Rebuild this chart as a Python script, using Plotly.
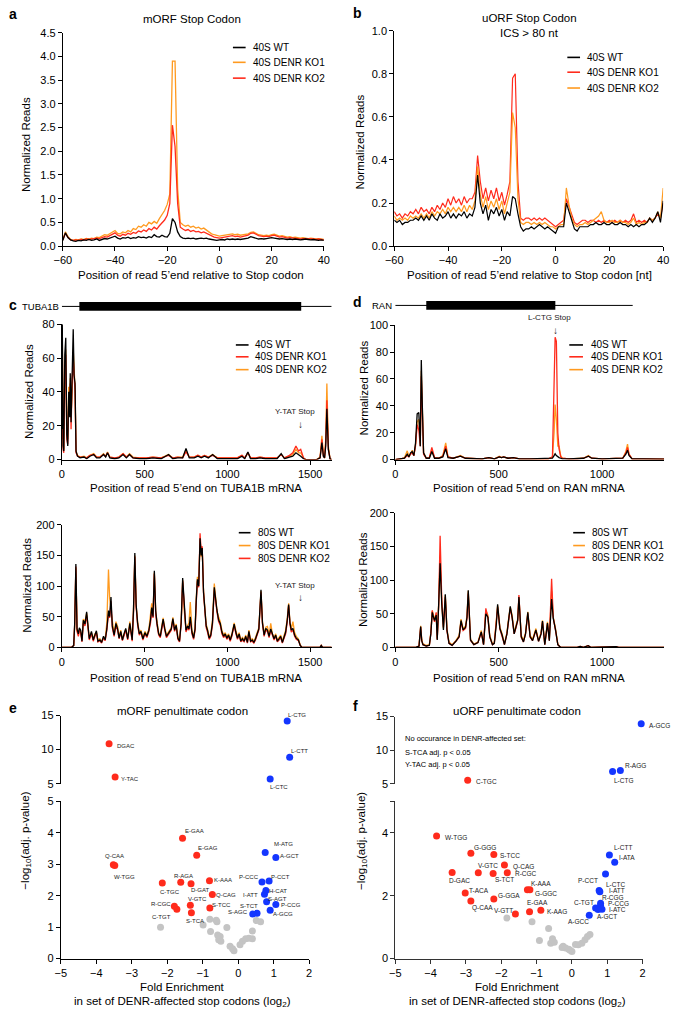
import plotly.graph_objects as go

W, H = 676, 1016
FONT = "Liberation Sans, Arial, sans-serif"
BLACK = "#000000"
ORANGE = "#FF9A1F"
RED = "#FF2B1C"
BLUE = "#1436FF"
GRAY = "#C4C4C4"

# ---------------- data ----------------
pos_ab = list(range(-60, 41))

a_wt = [0.12,0.28,0.18,0.13,0.11,0.10,0.12,0.11,0.13,0.12,
        0.14,0.12,0.13,0.15,0.12,0.14,0.16,0.15,0.17,0.19,
        0.21,0.17,0.15,0.18,0.17,0.19,0.16,0.18,0.17,0.20,
        0.18,0.19,0.17,0.20,0.18,0.24,0.20,0.19,0.23,0.20,
        0.19,0.27,0.58,0.50,0.30,0.20,0.17,0.16,0.17,0.16,
        0.17,0.15,0.16,0.17,0.16,0.17,0.15,0.14,0.13,0.12,
        0.13,0.14,0.13,0.15,0.14,0.15,0.14,0.15,0.14,0.15,
        0.16,0.17,0.20,0.18,0.16,0.15,0.16,0.15,0.16,0.17,
        0.18,0.17,0.16,0.15,0.16,0.15,0.14,0.15,0.14,0.15,
        0.14,0.13,0.14,0.15,0.14,0.13,0.14,0.13,0.12,0.13,0.12]
a_ko1 = [0.14,0.30,0.20,0.14,0.12,0.14,0.13,0.15,0.14,0.16,
         0.15,0.17,0.16,0.19,0.18,0.21,0.24,0.23,0.26,0.29,
         0.33,0.27,0.26,0.30,0.28,0.33,0.30,0.37,0.35,0.42,
         0.40,0.45,0.42,0.50,0.47,0.52,0.48,0.58,0.66,0.75,
         0.88,1.10,3.90,3.90,1.20,0.50,0.45,0.42,0.44,0.40,
         0.42,0.38,0.40,0.36,0.38,0.34,0.30,0.26,0.24,0.22,
         0.21,0.22,0.23,0.24,0.25,0.26,0.24,0.25,0.23,0.24,
         0.25,0.26,0.29,0.30,0.27,0.24,0.23,0.22,0.23,0.22,
         0.24,0.25,0.23,0.21,0.22,0.20,0.19,0.20,0.18,0.19,
         0.18,0.17,0.18,0.17,0.16,0.17,0.16,0.15,0.16,0.15,0.14]
a_ko2 = [0.13,0.27,0.18,0.13,0.12,0.13,0.12,0.14,0.13,0.15,
         0.14,0.15,0.15,0.17,0.16,0.18,0.20,0.19,0.22,0.24,
         0.28,0.23,0.21,0.25,0.23,0.27,0.25,0.29,0.27,0.32,
         0.30,0.34,0.31,0.37,0.34,0.40,0.36,0.43,0.48,0.55,
         0.65,0.90,2.55,2.10,0.90,0.40,0.36,0.33,0.35,0.31,
         0.33,0.30,0.31,0.28,0.30,0.27,0.24,0.21,0.19,0.18,
         0.17,0.18,0.19,0.20,0.21,0.22,0.20,0.21,0.19,0.20,
         0.21,0.23,0.27,0.28,0.25,0.22,0.21,0.20,0.21,0.20,
         0.22,0.23,0.21,0.19,0.20,0.18,0.17,0.18,0.17,0.17,
         0.16,0.15,0.16,0.16,0.15,0.16,0.15,0.14,0.15,0.14,0.13]

b_wt = [0.12,0.11,0.12,0.10,0.11,0.11,0.12,0.12,0.13,0.12,
        0.14,0.12,0.14,0.12,0.15,0.13,0.12,0.15,0.13,0.14,
        0.16,0.13,0.15,0.13,0.15,0.14,0.16,0.13,0.15,0.14,
        0.18,0.33,0.20,0.15,0.19,0.12,0.17,0.15,0.18,0.14,
        0.17,0.12,0.16,0.14,0.23,0.22,0.15,0.09,0.07,0.08,
        0.08,0.09,0.08,0.09,0.10,0.09,0.08,0.09,0.08,0.07,
        0.06,0.09,0.09,0.09,0.20,0.16,0.12,0.08,0.07,0.09,
        0.09,0.09,0.09,0.10,0.10,0.11,0.10,0.10,0.11,0.10,
        0.10,0.11,0.10,0.10,0.11,0.10,0.10,0.09,0.10,0.09,
        0.10,0.09,0.10,0.10,0.11,0.13,0.11,0.13,0.16,0.11,0.21]
b_ko1 = [0.16,0.14,0.15,0.13,0.15,0.14,0.16,0.15,0.17,0.15,
         0.18,0.16,0.17,0.15,0.18,0.16,0.19,0.17,0.20,0.18,
         0.22,0.19,0.23,0.20,0.22,0.19,0.23,0.20,0.22,0.22,
         0.25,0.42,0.30,0.22,0.27,0.21,0.26,0.22,0.27,0.21,
         0.25,0.19,0.24,0.30,0.78,0.80,0.30,0.13,0.12,0.13,
         0.13,0.12,0.13,0.12,0.13,0.12,0.13,0.12,0.11,0.10,
         0.09,0.10,0.11,0.12,0.22,0.18,0.14,0.11,0.10,0.11,
         0.12,0.12,0.11,0.12,0.12,0.11,0.12,0.11,0.12,0.11,
         0.12,0.11,0.12,0.11,0.12,0.11,0.12,0.11,0.12,0.15,
         0.11,0.12,0.11,0.12,0.11,0.13,0.12,0.13,0.15,0.13,0.20]
b_ko2 = [0.14,0.12,0.13,0.12,0.13,0.12,0.14,0.13,0.14,0.13,
         0.15,0.13,0.15,0.13,0.16,0.14,0.16,0.15,0.17,0.15,
         0.18,0.16,0.18,0.16,0.18,0.16,0.19,0.16,0.19,0.17,
         0.21,0.37,0.24,0.18,0.23,0.17,0.21,0.18,0.22,0.17,
         0.21,0.15,0.20,0.25,0.62,0.55,0.22,0.11,0.10,0.11,
         0.11,0.10,0.11,0.10,0.11,0.10,0.11,0.10,0.09,0.09,
         0.08,0.09,0.10,0.10,0.27,0.19,0.13,0.10,0.09,0.10,
         0.10,0.11,0.10,0.11,0.12,0.13,0.14,0.16,0.12,0.11,
         0.11,0.12,0.11,0.11,0.12,0.11,0.11,0.10,0.11,0.13,
         0.10,0.11,0.10,0.11,0.11,0.13,0.12,0.13,0.16,0.13,0.27]

# c top: 40S on TUBA1B
ct_pos = [0, 3, 8, 12, 18, 24, 30, 36, 42, 48,
          51, 56, 62, 69, 74, 80, 86, 95, 110, 134,
          150, 170, 193, 210, 230, 252, 265, 276, 290, 320,
          345, 370, 390, 409, 430, 470, 510, 550, 600, 645,
          670, 700, 730, 750, 770, 800, 822, 842, 862, 885,
          911, 940, 980, 1020, 1060, 1088, 1105, 1124, 1140, 1170,
          1197, 1230, 1270, 1300, 1325, 1345, 1375, 1395, 1414, 1430,
          1443, 1460, 1473, 1500, 1540, 1560, 1571, 1580, 1587, 1594,
          1601, 1610, 1620, 1630]
ct_wt = [18, 80, 8, 5, 62, 72, 15, 8, 40, 25,
         51, 22, 48, 77, 50, 45, 5, 2, 1, 1.5,
         0.5, 2, 3, 1, 1, 3, 1.5, 4, 1, 0.5,
         1, 3, 1, 3, 1, 0.5, 0.5, 1, 0.5, 3,
         0.5, 1, 1, 6.5, 1, 1, 2, 1, 2, 1,
         3, 0.5, 0.5, 0.5, 0.5, 2, 0.5, 4.5, 0.5, 0.5,
         1, 0.5, 0.5, 0.5, 3.5, 0.5, 1.5, 2, 4, 3,
         2, 0.5, 0, 0, 0, 1, 10, 2, 1, 8,
         30, 6, 0.5, 0]
ct_ko1 = [12, 68, 6, 4, 50, 62, 12, 9, 35, 28,
          45, 18, 45, 60, 50, 40, 4, 2, 1.5, 1.5,
          1, 2.5, 3, 1.5, 1.5, 3, 2, 4, 1.5, 1,
          1.5, 3.5, 1.5, 3, 1, 1, 1, 1.5, 1, 2.5,
          1, 1.5, 1, 4.5, 1.5, 1.5, 2.5, 1.5, 2.5, 1.5,
          2.5, 1, 1, 1, 1, 2.5, 1, 4, 1, 1,
          1.5, 1, 1, 1, 3, 1, 2.5, 4, 8, 5,
          6, 1, 0, 0, 0, 1, 12, 2, 1, 10,
          35, 6, 0.5, 0]
ct_ko2 = [15, 75, 9, 6, 55, 65, 18, 12, 43, 30,
          48, 25, 40, 65, 55, 42, 5, 2.5, 1.5, 2,
          1, 2.5, 3.5, 1.5, 1.5, 3.5, 2, 4.5, 1.5, 1,
          1.5, 3.5, 1.5, 3.5, 1.5, 1, 1, 1.5, 1, 3,
          1, 1.5, 1.5, 5.5, 1.5, 1.5, 2.5, 1.5, 2.5, 1.5,
          3, 1, 1, 1, 1, 2.5, 1, 4, 1, 1,
          1.5, 1, 1, 1, 3, 1, 2, 3, 6, 4,
          4, 1, 0, 0, 0, 1.5, 14, 2.5, 1, 12,
          45, 8, 0.5, 0]

# c bottom: 80S on TUBA1B
cb_pos = [0, 60, 72, 78, 85, 92, 100, 106, 114, 122,
          130, 140, 150, 158, 166, 179, 190, 200, 209, 218,
          230, 240, 252, 262, 272, 282, 289, 297, 305, 316,
          327, 337, 346, 356, 366, 376, 386, 398, 411, 425,
          433, 441, 449, 458, 468, 478, 490, 502, 514, 526,
          536, 543, 551, 559, 567, 575, 585, 595, 604, 612,
          622, 632, 642, 652, 661, 671, 681, 691, 701, 711,
          721, 730, 740, 750, 760, 768, 776, 786, 796, 805,
          812, 819, 827, 835, 842, 848, 856, 864, 872, 880,
          890, 900, 910, 921, 929, 937, 947, 957, 967, 977,
          987, 997, 1007, 1017, 1027, 1041, 1051, 1061, 1071, 1081,
          1091, 1101, 1111, 1121, 1130, 1140, 1150, 1160, 1170, 1180,
          1190, 1203, 1212, 1222, 1232, 1242, 1252, 1262, 1272, 1282,
          1292, 1302, 1312, 1322, 1332, 1342, 1352, 1362, 1370, 1378,
          1386, 1396, 1406, 1416, 1429, 1440, 1450, 1560, 1567, 1575,
          1630]
cb_wt = [0, 0, 3, 40, 136, 30, 22, 32, 28, 10,
         44, 38, 58, 32, 14, 26, 12, 20, 27, 10,
         12, 8, 18, 12, 30, 60, 50, 82, 35, 20,
         39, 30, 15, 26, 12, 22, 31, 14, 39, 12,
         60, 154, 70, 39, 22, 26, 14, 24, 18, 28,
         45, 65, 50, 125, 60, 39, 22, 18, 30, 46,
         30, 18, 22, 26, 30, 47, 28, 36, 15, 10,
         40, 113, 60, 28, 35, 30, 50, 25, 15, 30,
         77, 111, 100, 178, 150, 162, 90, 60, 35, 28,
         15, 20, 40, 98, 75, 61, 45, 39, 25, 18,
         22, 15, 20, 12, 20, 38, 25, 15, 22, 10,
         14, 10, 18, 8, 26, 10, 12, 8, 14, 22,
         30, 94, 40, 20, 31, 28, 18, 30, 20, 14,
         20, 10, 14, 18, 8, 16, 25, 45, 70, 40,
         28, 31, 20, 15, 12, 3, 0, 0, 3, 0,
         0]
cb_ko1 = [0, 0, 3, 35, 130, 28, 20, 30, 26, 12,
          46, 42, 56, 30, 16, 24, 14, 22, 25, 12,
          14, 9, 16, 14, 40, 127, 80, 60, 40, 22,
          42, 34, 18, 28, 14, 20, 29, 16, 42, 14,
          62, 150, 68, 42, 24, 28, 16, 26, 20, 30,
          50, 72, 55, 122, 58, 42, 24, 20, 32, 48,
          32, 20, 24, 28, 32, 49, 30, 38, 17, 12,
          42, 110, 58, 30, 37, 40, 74, 28, 18, 32,
          80, 115, 104, 176, 148, 160, 92, 62, 38, 30,
          18, 22, 44, 104, 80, 60, 50, 42, 28, 20,
          24, 17, 22, 14, 22, 40, 28, 17, 24, 12,
          16, 12, 20, 10, 28, 12, 14, 10, 16, 24,
          32, 92, 42, 22, 33, 34, 20, 39, 22, 16,
          22, 12, 16, 20, 10, 18, 28, 48, 72, 42,
          30, 42, 24, 18, 14, 4, 0, 0, 3, 0,
          0]
cb_ko2 = [0, 0, 3, 38, 132, 26, 18, 28, 24, 9,
          40, 35, 52, 28, 12, 22, 10, 18, 24, 9,
          11, 7, 15, 11, 28, 55, 48, 75, 32, 18,
          36, 28, 14, 24, 11, 19, 28, 12, 36, 10,
          55, 148, 66, 36, 20, 24, 12, 22, 16, 26,
          40, 60, 48, 120, 55, 36, 20, 16, 28, 42,
          28, 16, 20, 24, 28, 45, 26, 34, 13, 9,
          38, 108, 55, 25, 32, 28, 45, 22, 13, 28,
          72, 108, 98, 186, 155, 165, 88, 56, 32, 25,
          13, 18, 36, 94, 70, 58, 42, 36, 22, 16,
          20, 13, 18, 10, 18, 36, 23, 13, 20, 9,
          12, 9, 16, 7, 24, 9, 10, 7, 12, 20,
          28, 90, 38, 18, 28, 26, 16, 28, 18, 12,
          18, 9, 12, 16, 7, 14, 22, 42, 68, 38,
          25, 28, 18, 13, 11, 3, 0, 0, 3, 0,
          0]

# d top: 40S on RAN
dt_pos = [0, 30, 45, 58, 66, 74, 82, 90, 98, 106,
          114, 121, 126, 131, 137, 150, 165, 177, 190, 210,
          230, 244, 255, 280, 315, 340, 380, 420, 453, 480,
          503, 514, 524, 545, 571, 600, 650, 700, 740, 760,
          768, 773, 779, 786, 792, 800, 808, 840, 880, 910,
          934, 950, 1000, 1050, 1100, 1115, 1123, 1130, 1145, 1200,
          1250, 1300]
dt_wt = [0, 0.5, 1, 4, 2, 5, 6, 3, 12, 34,
         35, 10, 74, 40, 5, 1, 1, 6, 1, 1,
         2, 8, 1.5, 1, 2.5, 1, 0.5, 0.5, 1.5, 0.5,
         2, 1.5, 2, 1, 1.5, 0.5, 0.5, 0.5, 0.5, 1,
         3, 4.3, 3, 2, 1.5, 1, 0.5, 0.5, 0.5, 1,
         2.5, 1, 0.5, 0.5, 1, 4, 7, 3, 0.5, 0.5,
         0.3, 0.3]
dt_ko1 = [0, 0.5, 1, 3, 2, 4, 5, 3, 10, 26,
          22, 10, 62, 35, 4, 1, 1.5, 9, 1.5, 1,
          2.5, 10, 2, 1, 2.5, 1, 0.5, 0.5, 1.5, 0.5,
          2, 1.5, 2, 1, 1.5, 0.5, 0.5, 0.5, 0.5, 2,
          60, 91, 88, 20, 8, 2, 1, 0.5, 0.5, 1,
          2.5, 1, 0.5, 0.5, 1, 5, 9, 4, 0.5, 0.5,
          0.3, 0.3]
dt_ko2 = [0, 0.5, 1.5, 6.5, 2.5, 4, 7, 3, 11, 28,
          30, 12, 66, 38, 5, 1, 1.5, 7, 1.5, 1,
          3, 12.5, 2, 1, 3, 1, 0.5, 0.5, 1.5, 0.5,
          2.5, 1.5, 2, 1, 1.5, 0.5, 0.5, 0.5, 0.5, 1.5,
          20, 41, 30, 10, 10, 3, 1, 0.5, 0.5, 1,
          3, 1, 0.5, 0.5, 1, 6, 11.5, 4, 0.5, 0.5,
          0.3, 0.3]

# d bottom: 80S on RAN
db_pos = [0, 100, 115, 120, 123, 128, 134, 150, 165, 172,
          179, 185, 190, 198, 203, 210, 217, 225, 233, 242,
          250, 260, 275, 293, 309, 318, 328, 340, 347, 353,
          364, 380, 400, 416, 427, 438, 448, 457, 470, 479,
          489, 495, 506, 517, 528, 540, 546, 556, 565, 575,
          585, 592, 598, 609, 620, 630, 641, 652, 664, 680,
          693, 705, 712, 723, 736, 745, 756, 764, 775, 786,
          799, 880, 894, 910, 933, 945, 1068, 1080, 1300]
db_wt = [0, 0, 2, 28, 31, 10, 4, 2, 3, 20,
         52, 45, 40, 48, 11, 64, 125, 64, 26, 79,
         26, 6, 3, 9, 16, 40, 26, 30, 45, 85,
         11, 4, 7, 23, 4, 50, 45, 16, 4, 6,
         35, 64, 28, 18, 4, 20, 35, 61, 45, 20,
         32, 40, 75, 16, 8, 20, 52, 16, 10, 26,
         9, 20, 39, 4, 36, 10, 72, 43, 26, 4,
         0, 0, 1.5, 0, 2.4, 0, 1, 0, 0]
db_ko1 = [0, 0, 2, 30, 32, 12, 5, 3, 4, 22,
          54, 48, 42, 50, 12, 66, 137, 66, 28, 78,
          28, 8, 4, 10, 18, 42, 28, 32, 48, 84,
          12, 5, 8, 25, 5, 55, 48, 18, 5, 7,
          38, 62, 30, 20, 5, 22, 38, 60, 48, 22,
          34, 42, 74, 18, 10, 22, 53, 18, 12, 28,
          10, 22, 40, 5, 38, 12, 84, 45, 28, 5,
          0, 0, 1.5, 0, 2.4, 0, 1, 0, 0]
db_ko2 = [0, 0, 2, 28, 30, 10, 4, 2, 3, 20,
          55, 44, 38, 52, 12, 62, 166, 70, 30, 75,
          24, 6, 3, 9, 15, 38, 25, 28, 44, 80,
          10, 4, 7, 22, 4, 58, 44, 15, 4, 6,
          34, 60, 27, 17, 4, 20, 34, 58, 44, 20,
          30, 40, 78, 15, 8, 20, 50, 15, 10, 25,
          9, 20, 38, 4, 35, 10, 102, 44, 25, 4,
          0, 0, 1.5, 0, 2.4, 0, 1, 0, 0]

# gene models (nt)
tuba1b_len, tuba1b_cds = 1630, [106, 1446]
ran_len, ran_cds = 1148, [150, 774]
tuba1b_stop_nt = 1441
ran_stop_nt = 777

# e: mORF penultimate codon (x = log2 fold enrichment, y = -log10 adj p)
e_up_red_lab = ["DGAC", "Y-TAC"]
e_up_red_x = [-3.64, -3.47]
e_up_red_y = [10.85, 5.97]
e_up_blue_lab = ["L-CTG", "L-CTT", "L-CTC"]
e_up_blue_x = [1.38, 1.45, 0.90]
e_up_blue_y = [14.18, 8.87, 5.68]
e_red_lab = ["E-GAA", "E-GAG", "Q-CAA", "W-TGG", "C-TGC", "R-AGA", "D-GAT", "K-AAA",
             "Q-CAG", "V-GTC", "S-TCC", "R-CGC", "S-TCA"]
e_red_x = [-1.57, -1.17, -3.52, -3.48, -2.14, -1.62, -1.33, -0.81, -0.73, -1.35, -0.80, -1.80, -1.32]
e_red_y = [3.83, 3.29, 2.99, 2.96, 2.41, 2.43, 2.38, 2.48, 2.04, 1.70, 1.61, 1.67, 1.46]
e_red_nolab_x = [-1.73]
e_red_nolab_y = [1.57]
e_blue_lab = ["M-ATG", "A-GCT", "P-CCC", "P-CCT", "H-CAT", "I-ATT", "S-AGT", "P-CCG",
              "A-GCG", "S-TCT", "S-AGC"]
e_blue_x = [0.76, 1.06, 0.67, 0.87, 0.78, 0.74, 0.80, 1.06, 0.90, 0.53, 0.41]
e_blue_y = [3.38, 3.22, 2.44, 2.47, 2.17, 2.05, 1.81, 1.72, 1.54, 1.44, 1.42]
e_gray_lab = ["C-TGT"]
e_gray_lab_x = [-2.19]
e_gray_lab_y = [1.00]
e_gray_x = [-0.99, -0.80, -0.78, -0.60, -0.62, -0.32, -0.58, -0.51, -0.55, -0.49,
            -0.23, -0.16, -0.12, 0.05, 0.12, 0.21, 0.30, 0.40, 0.40, 0.51, 0.63]
e_gray_y = [1.07, 1.25, 0.86, 1.17, 1.22, 0.99, 0.75, 0.70, 0.60, 0.55,
            0.39, 0.31, 0.25, 0.44, 0.55, 0.63, 0.65, 0.63, 0.88, 1.21, 1.17]

# f: uORF penultimate codon
f_up_red_lab = ["C-TGC"]
f_up_red_x = [-2.95]
f_up_red_y = [5.50]
f_up_blue_lab = ["A-GCG", "R-AGG", "L-CTG"]
f_up_blue_x = [1.96, 1.37, 1.15]
f_up_blue_y = [13.91, 6.98, 6.83]
f_red_lab = ["W-TGG", "G-GGG", "S-TCC", "V-GTC", "Q-CAG", "D-GAC", "S-TCT", "R-CGC",
             "K-AAA", "G-GGC", "T-ACA", "G-GGA", "Q-CAA", "V-GTT", "E-GAA", "K-AAG"]
f_red_x = [-3.83, -2.86, -2.21, -2.65, -1.91, -3.39, -2.23, -1.83,
           -1.26, -1.19, -3.02, -2.21, -2.86, -1.60, -1.20, -0.88]
f_red_y = [3.90, 3.35, 3.31, 2.73, 2.98, 2.74, 2.71, 2.73,
           2.19, 2.19, 2.09, 1.90, 1.83, 1.42, 1.49, 1.54]
f_blue_lab = ["L-CTT", "I-ATA", "P-CCT", "L-CTC", "I-ATT", "R-CGG", "P-CCG", "C-TGT",
              "I-ATC", "A-GCT", "A-GCC"]
f_blue_x = [1.06, 1.21, 0.95, 0.77, 0.79, 0.81, 0.81, 0.67, 0.85, 0.74, 0.49]
f_blue_y = [3.30, 3.07, 2.69, 2.17, 2.13, 1.76, 1.68, 1.61, 1.57, 1.56, 1.38]
f_gray_x = [-1.84, -1.13, -0.66, -0.92, -0.55, -0.60, -0.50, -0.25, -0.18, -0.09,
            0.00, 0.18, 0.28, 0.37, 0.44, 0.51, -0.28, -0.05, 0.10]
f_gray_y = [1.29, 1.17, 0.96, 0.58, 0.63, 0.49, 0.52, 0.39, 0.34, 0.30,
            0.23, 0.44, 0.49, 0.60, 0.70, 0.77, 0.35, 0.27, 0.45]

for p, *ys in [(pos_ab, a_wt, a_ko1, a_ko2, b_wt, b_ko1, b_ko2),
               (ct_pos, ct_wt, ct_ko1, ct_ko2), (cb_pos, cb_wt, cb_ko1, cb_ko2),
               (dt_pos, dt_wt, dt_ko1, dt_ko2), (db_pos, db_wt, db_ko1, db_ko2)]:
    for y in ys:
        assert len(y) == len(p), (len(p), len(y))

# label offsets from the marker, in screen pixels (dx right, dy down) -- style only
e_up_red_off = [(16.7, 2), (14.7, 1.7)]
e_up_blue_off = [(10, -5.7), (9.7, -6), (9, 8)]
e_red_off = [(11.7, -7.3), (11, -7), (0.7, -9), (10, 11), (7.7, 9.3), (2.7, -6.7), (9.3, 6),
             (14, -1), (14, 0), (6.7, -5.7), (11.7, -2.7), (-13.3, -1.7), (4, 8.3)]
e_blue_off = [(18.3, -8.3), (13.7, -1.7), (-12.7, -5.3), (11, -3.7), (12.3, 0.7), (-13.7, 1.3),
              (11.3, -2.3), (15, 0.7), (13, 4), (-7.7, -7.3), (-14.3, -1.7)]
e_gray_off = [(1.3, -10.3)]
f_up_red_off = [(18.7, 0.7)]
f_up_blue_off = [(18.3, 1.7), (14.7, -5), (11.7, 9)]
f_red_off = [(19.7, 1.7), (13.7, -6.3), (15.7, 0.7), (9.7, -7), (19, 1.7), (7.3, 7.7), (11, 6.3),
             (18.3, 0.7), (14, -6), (16, 3.3), (14, -2.7), (15, -3), (11.7, 7), (-12, -3.7),
             (8.3, -9), (16, 1.7)]
f_blue_off = [(13.3, -7.3), (12.3, -4.7), (-17.3, 6.7), (16, -5.7), (16.7, -0.7), (12.7, -5.7),
              (17.7, -2), (-11.7, -6), (15.7, 0.7), (8.7, 7.3), (-10.7, 6.7)]

# ---------------- helpers ----------------
def xd(a, b):
    return [a / W, b / W]

def yd(bottom, top):
    return [1 - bottom / H, 1 - top / H]

def PX(x):
    return x / W

def PY(y):
    return 1 - y / H

fig = go.Figure()
anns = []
shapes = []

def line(x, y, xa, ya, color, name, width=1.3):
    fig.add_trace(go.Scatter(x=x, y=y, xaxis=xa, yaxis=ya, mode="lines", name=name,
                             line=dict(color=color, width=width), showlegend=False,
                             hoverinfo="skip"))

# a
line(pos_ab, a_ko1, "x", "y", ORANGE, "40S DENR KO1")
line(pos_ab, a_ko2, "x", "y", RED, "40S DENR KO2")
line(pos_ab, a_wt, "x", "y", BLACK, "40S WT")
# b
line(pos_ab, b_ko1, "x2", "y2", RED, "40S DENR KO1", 1.2)
line(pos_ab, b_ko2, "x2", "y2", ORANGE, "40S DENR KO2", 1.2)
line(pos_ab, b_wt, "x2", "y2", BLACK, "40S WT", 1.2)
# c top
line(ct_pos, ct_ko2, "x3", "y3", ORANGE, "40S DENR KO2", 1.3)
line(ct_pos, ct_ko1, "x3", "y3", RED, "40S DENR KO1", 1.3)
line(ct_pos, ct_wt, "x3", "y3", BLACK, "40S WT", 1.3)
# c bottom
line(cb_pos, cb_ko1, "x4", "y4", ORANGE, "80S DENR KO1", 1.3)
line(cb_pos, cb_ko2, "x4", "y4", RED, "80S DENR KO2", 1.3)
line(cb_pos, cb_wt, "x4", "y4", BLACK, "80S WT", 1.3)
# d top
line(dt_pos, dt_ko2, "x5", "y5", ORANGE, "40S DENR KO2", 1.3)
line(dt_pos, dt_ko1, "x5", "y5", RED, "40S DENR KO1", 1.3)
line(dt_pos, dt_wt, "x5", "y5", BLACK, "40S WT", 1.3)
# d bottom
line(db_pos, db_ko1, "x6", "y6", ORANGE, "80S DENR KO1", 1.3)
line(db_pos, db_ko2, "x6", "y6", RED, "80S DENR KO2", 1.3)
line(db_pos, db_wt, "x6", "y6", BLACK, "80S WT", 1.3)

def pts(x, y, xa, ya, color, lab=None, off=None, fsize=6):
    fig.add_trace(go.Scatter(x=x, y=y, xaxis=xa, yaxis=ya, mode="markers",
                             marker=dict(size=7, color=color, line=dict(width=0)),
                             showlegend=False, cliponaxis=False, hoverinfo="skip"))
    if lab:
        for xi, yi, t, (dx, dy) in zip(x, y, lab, off):
            anns.append(dict(text=t, x=xi, y=yi, xref=xa, yref=ya, showarrow=False,
                             xanchor="center", yanchor="middle", xshift=dx, yshift=-dy,
                             font=dict(size=fsize, family=FONT, color="#222")))

pts(e_gray_x, e_gray_y, "x7", "y7", GRAY)
pts(e_gray_lab_x, e_gray_lab_y, "x7", "y7", GRAY, e_gray_lab, e_gray_off)
pts(e_red_nolab_x, e_red_nolab_y, "x7", "y7", RED)
pts(e_red_x, e_red_y, "x7", "y7", RED, e_red_lab, e_red_off)
pts(e_blue_x, e_blue_y, "x7", "y7", BLUE, e_blue_lab, e_blue_off)
pts(e_up_red_x, e_up_red_y, "x7", "y8", RED, e_up_red_lab, e_up_red_off)
pts(e_up_blue_x, e_up_blue_y, "x7", "y8", BLUE, e_up_blue_lab, e_up_blue_off)

pts(f_gray_x, f_gray_y, "x9", "y9", GRAY)
pts(f_red_x, f_red_y, "x9", "y9", RED, f_red_lab, f_red_off, 6.5)
pts(f_blue_x, f_blue_y, "x9", "y9", BLUE, f_blue_lab, f_blue_off, 6.5)
pts(f_up_red_x, f_up_red_y, "x9", "y10", RED, f_up_red_lab, f_up_red_off, 6.5)
pts(f_up_blue_x, f_up_blue_y, "x9", "y10", BLUE, f_up_blue_lab, f_up_blue_off, 6.5)

def axis(domain, rng, tickvals, anchor, fmt=None, color=BLACK, minor=None):
    d = dict(domain=domain, range=rng, tickvals=tickvals, anchor=anchor,
             showline=True, linecolor=color, linewidth=1, ticks="outside", ticklen=4,
             tickwidth=1, tickcolor=color, showgrid=False, zeroline=False,
             tickfont=dict(size=11, color=BLACK, family=FONT), fixedrange=True)
    if fmt:
        d["tickformat"] = fmt
    if minor is not None:
        d["minor"] = dict(tickvals=minor, ticks="outside", ticklen=4, tickwidth=1,
                          tickcolor=color, showgrid=False)
    return d

layout = dict(
    width=W, height=H, margin=dict(l=0, r=0, t=0, b=0),
    paper_bgcolor="white", plot_bgcolor="white",
    font=dict(family=FONT, color=BLACK, size=11), showlegend=False,
    xaxis=axis(xd(55, 322), [-60, 40], [-60, -40, -20, 0, 20, 40], "y"),
    yaxis=axis(yd(243, 27), [0, 4.5], [0, 0.5, 1, 1.5, 2, 2.5, 3, 3.5, 4, 4.5], "x", ".1f"),
    xaxis2=axis(xd(394, 669), [-60, 40], [-60, -40, -20, 0, 20, 40], "y2"),
    yaxis2=axis(yd(243, 25), [0, 1], [0, 0.2, 0.4, 0.6, 0.8, 1.0], "x2", ".1f"),
    xaxis3=axis(xd(54, 330), [0, 1630], [0, 500, 1000, 1500], "y3"),
    yaxis3=axis(yd(459, 322), [0, 80], [0, 20, 40, 60, 80], "x3"),
    xaxis4=axis(xd(54, 330), [0, 1630], [0, 500, 1000, 1500], "y4"),
    yaxis4=axis(yd(649, 525), [0, 200], [0, 50, 100, 150, 200], "x4"),
    xaxis5=axis(xd(395, 670), [0, 1300], [0, 500, 1000], "y5"),
    yaxis5=axis(yd(459, 323), [0, 100], [0, 20, 40, 60, 80, 100], "x5"),
    xaxis6=axis(xd(395, 670), [0, 1300], [0, 500, 1000], "y6"),
    yaxis6=axis(yd(649, 513), [0, 200], [0, 50, 100, 150, 200], "x6"),
    xaxis7=axis(xd(53, 307), [-5, 2], [-5, -4, -3, -2, -1, 0, 1, 2], "y7"),
    yaxis7=axis(yd(964, 805), [0, 5], [0, 1, 2, 3, 4, 5], "x7"),
    yaxis8=axis(yd(787, 718), [5, 15], [5, 10, 15], "x7"),
    xaxis9=axis(xd(395, 648), [-5, 2], [-5, -4, -3, -2, -1, 0, 1, 2], "y9", color="#333"),
    yaxis9=axis(yd(964, 805), [0, 5], [0, 2, 4], "x9", color="#333", minor=[5]),
    yaxis10=axis(yd(787, 719), [5, 15], [5, 10, 15], "x9", color="#333"),
)
fig.update_layout(**layout)

def ann(text, x, y, size=11, xanchor="center", angle=0, bold=False, **kw):
    if bold:
        text = "<b>" + text + "</b>"
    anns.append(dict(text=text, x=PX(x), y=PY(y), xref="paper", yref="paper", showarrow=False,
                     xanchor=xanchor, yanchor="middle", textangle=angle,
                     font=dict(size=size, family=FONT, color=BLACK), **kw))

# panel letters
for L, x, y in [("a", 4, 8), ("b", 356, 7), ("c", 4, 303), ("d", 356, 300), ("e", 4, 710), ("f", 354, 708)]:
    ann(L, x, y, 14, bold=True)

# titles
ann("mORF Stop Codon", 187, 13, 11.5)
ann("uORF Stop Codon", 532, 12, 11.5)
ann("ICS > 80 nt", 532, 27, 11.5)
ann("mORF penultimate codon", 177, 713, 11.5)
ann("uORF penultimate codon", 520, 713, 11.5)

# axis titles
ann("Position of read 5\u2019end relative to Stop codon", 186, 272, 11.5)
ann("Position of read 5\u2019end relative to Stop codon [nt]", 532, 272, 11.5)
ann("Position of read 5\u2019end on TUBA1B mRNA", 191, 488, 11.5)
ann("Position of read 5\u2019end on TUBA1B mRNA", 191, 680, 11.5)
ann("Position of read 5\u2019end on RAN mRNA", 532, 488, 11.5)
ann("Position of read 5\u2019end on RAN mRNA", 532, 680, 11.5)
for x, y in [(18, 140), (359, 138), (21, 390), (18, 586), (363, 386), (362, 580)]:
    ann("Normalized Reads", x, y, 11.5, angle=-90)
ann("\u2212log<sub>10</sub>(adj. p-value)", 17, 845, 11.5, angle=-90)
ann("\u2212log<sub>10</sub>(adj. p-value)", 361, 845, 11.5, angle=-90)
for cx in (177, 520):
    ann("Fold Enrichment", cx, 993, 11.5)
    ann("in set of DENR-affected stop codons (log<sub>2</sub>)", cx, 1008, 11.5)

# f note
ann("No occurance in DENR-affected set:", 403, 741, 7.5, xanchor="left")
ann("S-TCA adj. p < 0.05", 403, 755, 7.5, xanchor="left")
ann("Y-TAC adj. p < 0.05", 403, 768, 7.5, xanchor="left")

# legends
def legend(x0, x1, xt, ys, labels, colors):
    for y, lab, col in zip(ys, labels, colors):
        shapes.append(dict(type="line", xref="paper", yref="paper", x0=PX(x0), x1=PX(x1),
                           y0=PY(y), y1=PY(y), line=dict(color=col, width=1.6)))
        ann(lab, xt, y, 10, xanchor="left")

legend(229, 242, 247, [42, 57, 73], ["40S WT", "40S DENR KO1", "40S DENR KO2"], [BLACK, ORANGE, RED])
legend(571, 584, 589, [52, 67, 83], ["40S WT", "40S DENR KO1", "40S DENR KO2"], [BLACK, RED, ORANGE])
legend(232, 245, 250, [343, 355, 368], ["40S WT", "40S DENR KO1", "40S DENR KO2"], [BLACK, RED, ORANGE])
legend(235, 247, 253, [533, 546, 559], ["80S WT", "80S DENR KO1", "80S DENR KO2"], [BLACK, ORANGE, RED])
legend(573, 587, 593, [343, 355, 368], ["40S WT", "40S DENR KO1", "40S DENR KO2"], [BLACK, RED, ORANGE])
legend(577, 589, 594, [533, 546, 558], ["80S WT", "80S DENR KO1", "80S DENR KO2"], [BLACK, ORANGE, RED])

# gene models
for xa, glen, cds, name, ly in [("x3", tuba1b_len, tuba1b_cds, "TUBA1B", 304),
                                 ("x5", ran_len, ran_cds, "RAN", 303)]:
    shapes.append(dict(type="line", xref=xa, yref="paper", x0=0, x1=glen, y0=PY(ly), y1=PY(ly),
                       line=dict(color=BLACK, width=1)))
    shapes.append(dict(type="rect", xref=xa, yref="paper", x0=cds[0], x1=cds[1],
                       y0=PY(ly + 4.5), y1=PY(ly - 4.5), fillcolor=BLACK, line=dict(width=0)))
    anns.append(dict(text=name, x=0, y=PY(ly), xref=xa, yref="paper", showarrow=False,
                     xanchor="right", yanchor="middle", xshift=-1,
                     font=dict(size=9.5, family=FONT, color=BLACK)))

# stop codon markers (x in nt, y in page pixels)
def stop_mark(text, xa, nt, ytext, yarrow, shift):
    anns.append(dict(text=text, x=nt, y=PY(ytext), xref=xa, yref="paper", showarrow=False,
                     xanchor="center", yanchor="middle", xshift=shift,
                     font=dict(size=8, family=FONT, color="#222")))
    anns.append(dict(text="\u2193", x=nt, y=PY(yarrow), xref=xa, yref="paper", showarrow=False,
                     xanchor="center", yanchor="middle",
                     font=dict(size=10, family=FONT, color="#222")))

stop_mark("Y-TAT Stop", "x3", tuba1b_stop_nt, 410, 423, -5)
stop_mark("Y-TAT Stop", "x4", tuba1b_stop_nt, 586, 599, -5)
stop_mark("L-CTG Stop", "x5", ran_stop_nt, 315, 328, -6)

fig.update_layout(annotations=anns, shapes=shapes)
fig.write_html("out.html", config={"displayModeBar": False},
               post_script="document.body.style.margin='0';document.body.style.padding='0';"
                           "document.body.style.overflow='hidden';")
